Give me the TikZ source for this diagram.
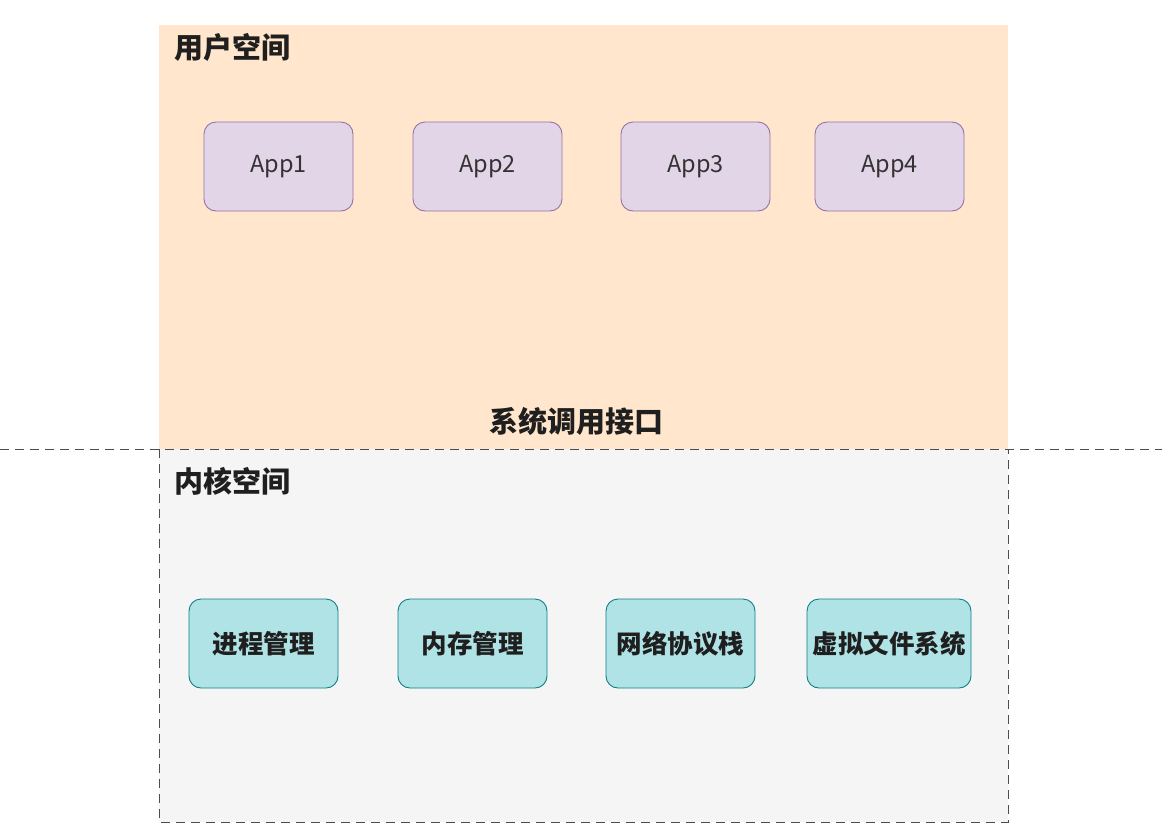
\documentclass[tikz,border=0pt]{standalone}
\usepackage{fontspec}
\setmainfont{Noto Sans CJK SC}
\definecolor{userbg}{HTML}{FFE6CC}
\definecolor{kernbg}{HTML}{F5F5F5}
\definecolor{appfill}{HTML}{E1D5E7}
\definecolor{appline}{HTML}{9673A6}
\definecolor{modfill}{HTML}{B0E3E6}
\definecolor{modline}{HTML}{0E8088}
\begin{document}
\begin{tikzpicture}[
                x=1pt, y=-1pt,
                layer/.style={inner sep=0pt, outer sep=0pt},
                title/.style={anchor=west, font=\fontsize{29}{33}\selectfont\bfseries, text=black!88},
                app/.style={rounded corners=12pt, draw=appline, fill=appfill, line width=0.9pt,
                        minimum width=149pt, minimum height=89pt, font=\fontsize{23.5}{27}\selectfont, text=black!80},
                module/.style={rounded corners=12pt, draw=modline, fill=modfill, line width=0.9pt,
                        minimum height=89pt, inner sep=2pt, font=\fontsize{25.5}{29}\selectfont\bfseries, text=black!88},
                sep/.style={draw=black!70, line width=1pt, dash pattern=on 9pt off 6pt}
            ]
            \useasboundingbox (0,0) rectangle (1162,839);

            % two spaces
            \fill[userbg] (159,25) rectangle (1008,449);
            \path[layer, fill=kernbg] (159,449) rectangle (1008,822);
            \draw[sep] (159,449) -- (159,822) -- (1008,822) -- (1008,449);

            \node[title] (usertitle) at (171,47) {用户空间};
            \node[title] (kerntitle) at (171,481) {内核空间};
            \node[title, anchor=center] (sysapi) at (576,421) {系统调用接口};

            % boundary between user and kernel
            \coordinate (sepl) at (0,449);
            \coordinate (sepr) at (1162,449);
            \draw[sep] (sepl) -- (sepr);

            % user applications
            \node[app] (app1) at (278.5,166.5) {App1};
            \node[app] (app2) at (487.5,166.5) {App2};
            \node[app] (app3) at (695.5,166.5) {App3};
            \node[app] (app4) at (889.5,166.5) {App4};

            % kernel modules
            \node[module, minimum width=149pt] (proc) at (263.5,643.5) {进程管理};
            \node[module, minimum width=149pt] (mem) at (472.5,643.5) {内存管理};
            \node[module, minimum width=149pt] (net) at (680.5,643.5) {网络协议栈};
            \node[module, minimum width=164pt] (vfs) at (889,643.5) {虚拟文件系统};

\end{tikzpicture}
\end{document}
